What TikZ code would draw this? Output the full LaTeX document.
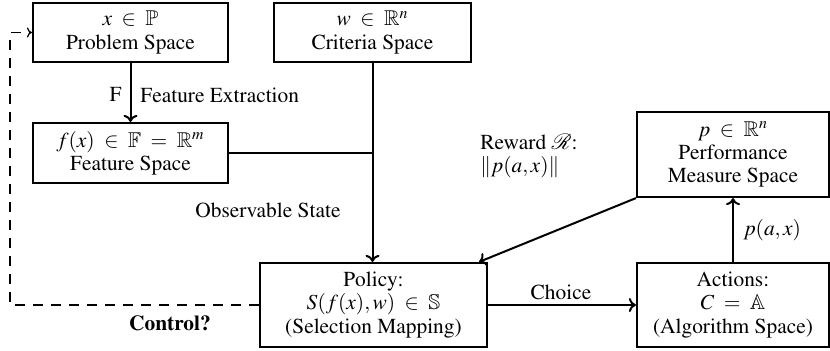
\documentclass[tikz,border=0pt]{standalone}
\usepackage[T1]{fontenc}
\usepackage{mathptmx}
\usepackage{amssymb}
\usepackage{mathrsfs}
\usetikzlibrary{arrows.meta}

\newcommand{\txtfont}{\fontsize{10.7}{11.6}\selectfont\thickmuskip=8mu plus 3mu}

\begin{document}
\begin{tikzpicture}[x=0.5pt,y=-0.5pt,
  box/.style={draw, line width=1.1pt, inner sep=0pt, align=center, font=\txtfont},
  lbl/.style={inner sep=0pt, font=\txtfont},
  conn/.style={line width=1pt},
  arr/.style={conn, -{To[length=3.5pt,width=7pt]}},
  ctrl/.style={line width=0.6pt, dash pattern=on 5pt off 4pt, -{To[length=2.5pt,width=5pt]}}]

\useasboundingbox (0,0) rectangle (830,350);

% spaces
\node[box, minimum width=97.5pt, minimum height=29.5pt] (prob) at (130.5,32.5)
  {$x \in \mathbb{P}$\\Problem Space};
\node[box, minimum width=98.5pt, minimum height=29.5pt] (crit) at (372.5,32.5)
  {$w \in \mathbb{R}^n$\\Criteria Space};
\node[box, minimum width=97.5pt, minimum height=30pt] (feat) at (130.5,153)
  {$f(x) \in \mathbb{F} = \mathbb{R}^m$\\Feature Space};
\node[box, minimum width=113.5pt, minimum height=42pt] (policy) at (373.5,305)
  {Policy:\\$S(f(x),w) \in \mathbb{S}$\\(Selection Mapping)};
\node[box, minimum width=96pt, minimum height=42pt] (actions) at (733,305)
  {Actions:\\$C = \mathbb{A}$\\(Algorithm Space)};
\node[box, minimum width=96pt, minimum height=42.5pt] (perf) at (733,154.5)
  {$p \in \mathbb{R}^n$\\Performance\\Measure Space};

% feature extraction
\draw[arr] (prob) -- (feat);
\node[lbl, anchor=east] (flbl) at (122,95) {F};
\node[lbl, anchor=west] (felbl) at (140,95) {Feature Extraction};

% observable state: feature and criteria merge into the policy
\coordinate (j) at (crit.south |- feat.east);
\draw[conn] (feat.east) -- (j);
\draw[arr] (crit.south) -- (crit.south |- policy.north);
\node[lbl] (obs) at (268,210) {Observable State};

% reward
\draw[arr] (perf.south west) -- ([xshift=-4.5pt]policy.north east);
\node[lbl, anchor=west, align=left] (rew) at (480,156) {Reward $\mathscr{R}$:\\$\|p(a,x)\|$};

% choice
\draw[arr] (policy.east) -- (actions.west);
\node[lbl] (choice) at (561,292) {Choice};

% performance
\draw[arr] (actions.north) -- (perf.south);
\node[lbl, anchor=west] (pax) at (743,230) {$p(a,x)$};

% control loop
\coordinate (c1) at (10,305);
\coordinate (c2) at (10,32.5);
\draw[ctrl] (policy.west) -- (c1) -- (c2) -- (prob.west);
\node[lbl, font=\txtfont\bfseries] (ctl) at (170,323) {Control?};

\end{tikzpicture}
\end{document}
